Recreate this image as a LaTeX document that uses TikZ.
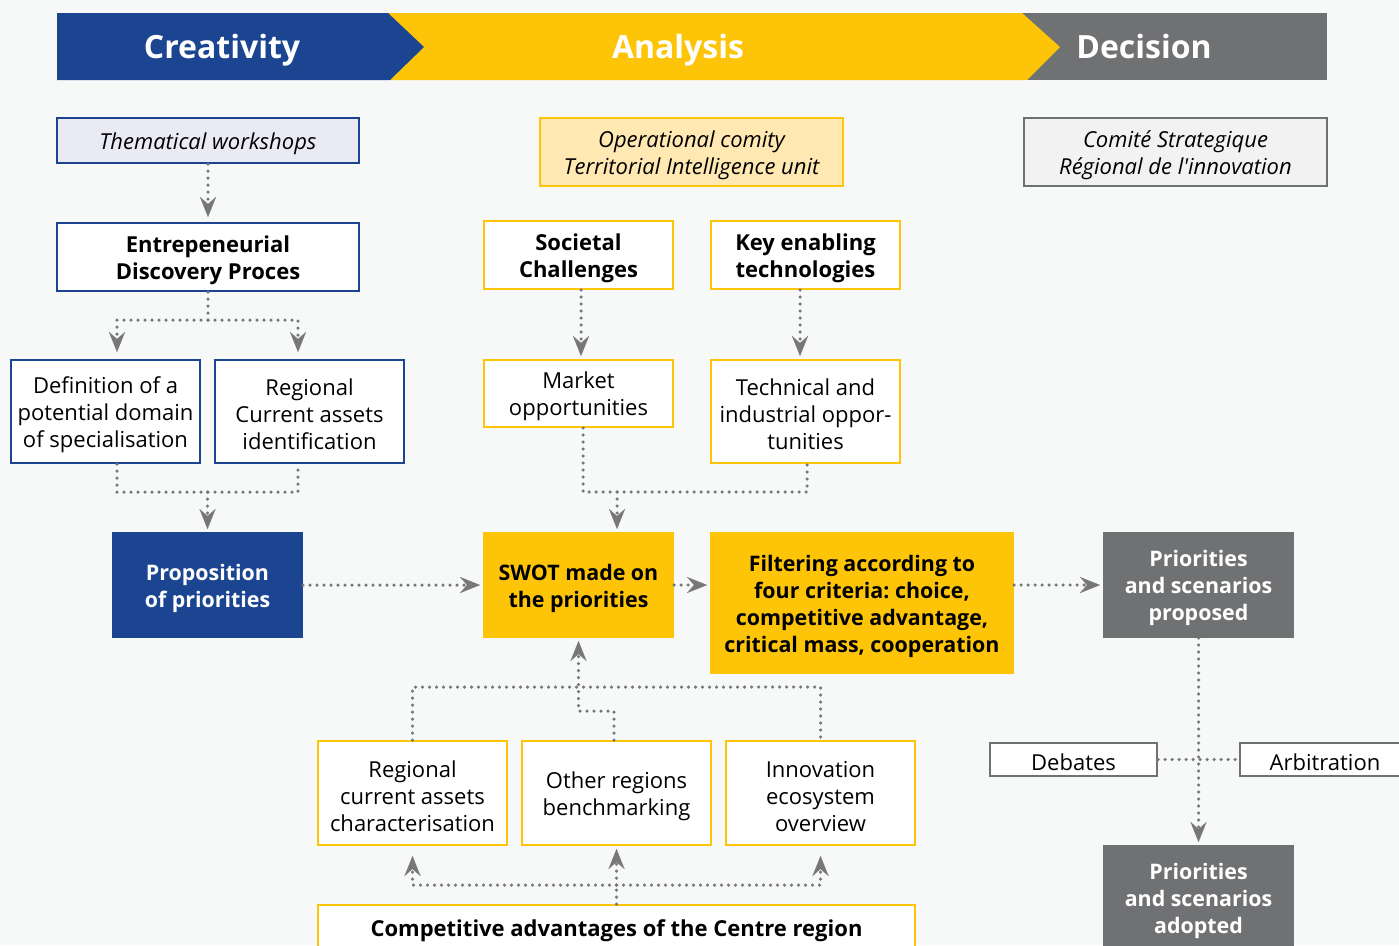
\documentclass[tikz,border=0pt]{standalone}
\usepackage{fontspec}
\setmainfont{Open Sans}
\usetikzlibrary{arrows.meta}
\definecolor{bgcol}{HTML}{F7F8F8}
\definecolor{regblue}{HTML}{1B4591}
\definecolor{regyellow}{HTML}{FEC508}
\definecolor{reggray}{HTML}{707173}
\definecolor{paleblue}{HTML}{EAEAF5}
\definecolor{paleyellow}{HTML}{FFE8B2}
\definecolor{palegray}{HTML}{F2F2F2}
\definecolor{linkgray}{HTML}{777777}
\tikzset{
  box/.style={draw, line width=2pt, align=flush center, inner sep=0pt, fill=white, text width=181pt,
    font=\fontsize{22}{27}\selectfont\frenchspacing, execute at begin node={\rule{0pt}{23pt}}},
  boldbox/.style={box, font=\fontsize{22}{27}\selectfont\frenchspacing\bfseries},
  solidbox/.style={box, font=\fontsize{21.4}{27}\selectfont\frenchspacing\bfseries},
  notebox/.style={box, font=\fontsize{22}{27}\selectfont\frenchspacing\itshape},
  wide/.style={text width=292pt},
  oneline/.style={execute at begin node={}},
  phase/.style={anchor=base, text=white, font=\fontsize{32}{36}\selectfont\bfseries},
  link/.style={draw=linkgray, line width=3.5pt, line cap=round, dash pattern=on 0pt off 7pt},
  tip/.style={-{Stealth[length=20pt,width=16pt,inset=7pt,line width=0.01pt,fill=linkgray]}}
}
\begin{document}
\begin{tikzpicture}[x=1pt, y=-1pt]
\useasboundingbox (0,0) rectangle (1399,945);
\clip (0,0) rectangle (1399,945);
\fill[bgcol] (0,0) rectangle (1399,945);
% phases
\fill[reggray] (1022,13) rectangle (1327,80);
\fill[regyellow] (388,13) -- (1022,13) -- (1060,47) -- (1027,80) -- (390,80) -- cycle;
\fill[regblue] (57,13) -- (388,13) -- (424,47) -- (390,80) -- (57,80) -- cycle;
\node[phase] (crea) at (222,58) {Creativity};
\node[phase] (anal) at (678,58) {Analysis};
\node[phase] (deci) at (1144,58) {Decision};
% actors
\node[notebox, wide, draw=regblue, fill=paleblue, minimum width=302, minimum height=45] (theme) at (208,140.5) {Thematical workshops};
\node[notebox, wide, draw=regyellow, fill=paleyellow, minimum width=303, minimum height=68] (opcom) at (691.5,152) {Operational comity\\Territorial Intelligence unit};
\node[notebox, wide, draw=reggray, fill=palegray, minimum width=303, minimum height=68] (comite) at (1175.5,152) {Comité Strategique\\Régional de l\textquotesingle innovation};
% creativity
\node[boldbox, wide, draw=regblue, minimum width=302, minimum height=68] (edp) at (208,257) {Entrepeneurial\\Discovery Proces};
\node[box, draw=regblue, minimum width=189, minimum height=103] (defi) at (105.5,411.5) {Definition of a\\potential domain\\of specialisation};
\node[box, draw=regblue, minimum width=189, minimum height=103] (rcai) at (309.5,411.5) {Regional\\Current assets\\identification};
\node[solidbox, draw=regblue, fill=regblue, text=white, minimum width=189, minimum height=104] (prop) at (207.5,585) {Proposition\\of priorities};
% analysis
\node[boldbox, draw=regyellow, minimum width=189, minimum height=68] (soc) at (578.5,255) {Societal\\Challenges};
\node[boldbox, draw=regyellow, minimum width=189, minimum height=68] (ket) at (805.5,255) {Key enabling\\technologies};
\node[box, draw=regyellow, minimum width=189, minimum height=67] (market) at (578.5,393.5) {Market\\opportunities};
\node[box, draw=regyellow, minimum width=189, minimum height=103] (techn) at (805.5,411.5) {Technical and\\industrial oppor-\\tunities};
\node[solidbox, draw=regyellow, fill=regyellow, minimum width=189, minimum height=104] (swot) at (578.5,585) {SWOT made on\\the priorities};
\node[solidbox, wide, draw=regyellow, fill=regyellow, minimum width=302, minimum height=140] (filt) at (862,603) {Filtering according to\\four criteria: choice,\\competitive advantage,\\critical mass, cooperation};
\node[box, draw=regyellow, minimum width=189, minimum height=104] (rcac) at (412.5,793) {Regional\\current assets\\characterisation};
\node[box, draw=regyellow, minimum width=189, minimum height=104] (bench) at (616.5,793) {Other regions\\benchmarking};
\node[box, draw=regyellow, minimum width=189, minimum height=104] (ecos) at (820.5,793) {Innovation\\ecosystem\\overview};
\node[boldbox, text width=585pt, draw=regyellow, minimum width=597, minimum height=46] (comp) at (616.5,928) {Competitive advantages of the Centre region};
% decision
\node[solidbox, draw=reggray, fill=reggray, text=white, minimum width=189, minimum height=104] (prio1) at (1198.5,585) {Priorities\\and scenarios\\proposed};
\node[box, oneline, text width=160pt, draw=reggray, minimum width=167, minimum height=33] (debates) at (1073.5,759.5) {Debates};
\node[box, oneline, text width=160pt, draw=reggray, minimum width=170, minimum height=33] (arbit) at (1325,759.5) {Arbitration};
\node[solidbox, draw=reggray, fill=reggray, text=white, minimum width=189, minimum height=104] (prio2) at (1198.5,898) {Priorities\\and scenarios\\adopted};
% links
\draw[link, tip, shorten >=5pt] (theme) -- (edp);
\draw[link] (edp.south) -- ++(0,28) coordinate (s1);
\draw[link, tip, shorten >=7pt] (s1) -| ([xshift=11.5pt]defi.north);
\draw[link, tip, shorten >=7pt] (s1) -| ([xshift=-11.5pt]rcai.north);
\draw[link] ([xshift=11.5pt]defi.south) -- ++(0,28) coordinate (m1) -| ([xshift=-11.5pt]rcai.south);
\draw[link, tip, shorten >=3pt] (m1 -| prop.north) -- (prop.north);
\draw[link, tip, shorten >=3pt] ([xshift=2.5pt]soc.south) -- ([xshift=2.5pt]market.north);
\draw[link, tip, shorten >=3pt] ([xshift=-5.5pt]ket.south) -- ([xshift=-5.5pt]techn.north);
\draw[link] ([xshift=4.5pt]market.south) -- ++(0,64) coordinate (m2) -| ([xshift=1.5pt]techn.south);
\draw[link, tip, shorten >=3pt] ([xshift=38.5pt]swot.north |- m2) -- ([xshift=38.5pt]swot.north);
\draw[link, tip, shorten >=3pt] (prop) -- (swot);
\draw[link, tip, shorten >=3pt] (swot.east) -- (swot.east -| filt.west);
\draw[link, tip, shorten >=3pt] (filt.east |- prio1.west) -- (prio1.west);
\draw[link, tip, shorten >=3pt] (prio1) -- (prio2);
\draw[link] (debates) -- (arbit);
\draw[link] (rcac.north) -- ++(0,-53) -| (ecos.north);
\draw[link, tip, shorten >=3pt] ([xshift=-2.5pt]bench.north) -- ++(0,-29) -| (swot.south);
\draw[link] (comp.north) -- ++(0,-19) coordinate (m4);
\draw[link, tip, shorten >=10pt] (m4) -| (rcac.south);
\draw[link, tip, shorten >=3pt] (m4) -- (bench.south);
\draw[link, tip, shorten >=10pt] (m4) -| (ecos.south);
\end{tikzpicture}
\end{document}
